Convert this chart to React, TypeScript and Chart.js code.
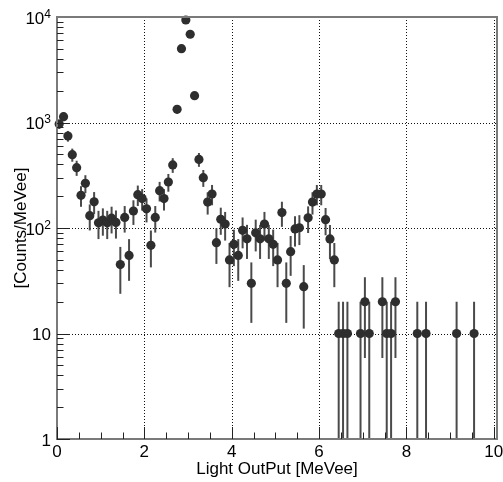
import React, { useEffect, useRef } from "react";
import { Chart, registerables } from "chart.js";

Chart.register(...registerables);

// Histogram bin centres (MeV electron equivalent), bin width 0.1
const BIN_CENTERS = [
  0.05, 0.15, 0.25, 0.35, 0.45, 0.55, 0.65, 0.75, 0.85, 0.95,
  1.05, 1.15, 1.25, 1.35, 1.45, 1.55, 1.65, 1.75, 1.85, 1.95,
  2.05, 2.15, 2.25, 2.35, 2.45, 2.55, 2.65, 2.75, 2.85, 2.95,
  3.05, 3.15, 3.25, 3.35, 3.45, 3.55, 3.65, 3.75, 3.85, 3.95,
  4.05, 4.15, 4.25, 4.35, 4.45, 4.55, 4.65, 4.75, 4.85, 4.95,
  5.05, 5.15, 5.25, 5.35, 5.45, 5.55, 5.65, 5.75, 5.85, 5.95,
  6.05, 6.15, 6.25, 6.35, 6.45, 6.55, 6.65, 6.95, 7.05, 7.15,
  7.45, 7.55, 7.65, 7.75, 8.25, 8.45, 9.15, 9.55,
];

// Counts per MeVee
const COUNTS_PER_MEVEE = [
  968, 1135, 745, 495, 373, 204, 265, 131, 177, 112,
  119, 112, 124, 113, 45, 126, 55, 145, 207, 190,
  152, 68.5, 126, 226, 190, 273, 396, 1334, 5010, 9370,
  6860, 1795, 447, 300, 176, 210, 72.6, 121, 109, 49.8,
  70, 55, 95, 79, 29.9, 90, 79, 109, 79, 70,
  49.8, 140, 29.9, 59.6, 98, 100.6, 27.8, 125, 176, 210,
  210, 120, 78.7, 49.8, 10, 10, 10, 10, 20, 10,
  20, 10, 10, 20, 10, 10, 10, 10,
];

const BIN_WIDTH = 0.1;

const X_MIN = 0;
const X_MAX = 10.075;
const Y_MIN = 1;
const Y_MAX = 10000;

const X_TICKS = [0, 2, 4, 6, 8, 10];
const X_TICK_LABELS = ["0", "2", "4", "6", "8", "10"];
const Y_TICKS = [1, 10, 100, 1000, 10000];
const Y_TICK_BASES = ["1", "10", "10", "10", "10"];
const Y_TICK_EXPONENTS = ["", "", "2", "3", "4"];

const X_TITLE = "Light OutPut [MeVee]";
const Y_TITLE = "[Counts/MeVee]";

const FONT_FAMILY = '"Liberation Sans", Arial, Helvetica, sans-serif';

const rootStylePlugin = {
  id: "rootStyle",
  beforeDatasetsDraw(chart: any) {
    const { ctx, chartArea: a, scales } = chart;
    const x = scales.x;
    const y = scales.y;
    ctx.save();
    // dotted grid
    ctx.strokeStyle = "#111";
    ctx.lineWidth = 1;
    ctx.setLineDash([1, 2]);
    for (const t of X_TICKS) {
      if (t === X_MIN) continue;
      const px = Math.round(x.getPixelForValue(t)) + 0.5;
      ctx.beginPath();
      ctx.moveTo(px, a.top);
      ctx.lineTo(px, a.bottom);
      ctx.stroke();
    }
    for (const t of Y_TICKS) {
      if (t === Y_MIN || t === Y_MAX) continue;
      const py = Math.round(y.getPixelForValue(t)) + 0.5;
      ctx.beginPath();
      ctx.moveTo(a.left, py);
      ctx.lineTo(a.right, py);
      ctx.stroke();
    }
    ctx.setLineDash([]);

    // statistical error bars
    ctx.beginPath();
    ctx.rect(a.left, a.top, a.right - a.left, a.bottom - a.top);
    ctx.clip();
    ctx.strokeStyle = "#4a4a4a";
    ctx.lineWidth = 2;
    for (let i = 0; i < BIN_CENTERS.length; i++) {
      const v = COUNTS_PER_MEVEE[i];
      const err = Math.sqrt(v * BIN_WIDTH) / BIN_WIDTH;
      const lo = v - err;
      const hi = v + err;
      const px = x.getPixelForValue(BIN_CENTERS[i]);
      const pyLo = lo > Y_MIN ? y.getPixelForValue(lo) : a.bottom;
      const pyHi = y.getPixelForValue(hi);
      ctx.beginPath();
      ctx.moveTo(px, Math.min(pyLo, a.bottom));
      ctx.lineTo(px, pyHi);
      ctx.stroke();
    }
    ctx.restore();
  },
  afterDraw(chart: any) {
    const { ctx, chartArea: a, scales } = chart;
    const x = scales.x;
    const y = scales.y;
    ctx.save();

    // frame
    ctx.strokeStyle = "#7a7a7a";
    ctx.lineWidth = 2;
    ctx.strokeRect(a.left, a.top, a.right - a.left, a.bottom - a.top);

    // ticks
    ctx.strokeStyle = "#222";
    ctx.lineWidth = 1;
    // x minor ticks every 0.5
    for (let k = 0; k <= 20; k++) {
      const t = k * 0.5;
      const px = Math.round(x.getPixelForValue(t)) + 0.5;
      const major = k % 4 === 0;
      const len = major ? 12 : 6.5;
      ctx.beginPath();
      ctx.moveTo(px, a.bottom);
      ctx.lineTo(px, a.bottom - len);
      ctx.stroke();
    }
    // y ticks
    for (let d = 0; d < 4; d++) {
      for (let m = 1; m <= 9; m++) {
        const v = m * Math.pow(10, d);
        const py = Math.round(y.getPixelForValue(v)) + 0.5;
        const len = m === 1 ? 13 : 6.5;
        ctx.beginPath();
        ctx.moveTo(a.left, py);
        ctx.lineTo(a.left + len, py);
        ctx.stroke();
      }
    }

    // x tick labels
    ctx.fillStyle = "#000";
    ctx.font = `17px ${FONT_FAMILY}`;
    ctx.textAlign = "center";
    ctx.textBaseline = "alphabetic";
    X_TICKS.forEach((t, i) => {
      ctx.fillText(X_TICK_LABELS[i], x.getPixelForValue(t), a.bottom + 18);
    });

    // y tick labels
    const right = a.left - 6;
    Y_TICKS.forEach((t, i) => {
      const py = y.getPixelForValue(t);
      const exp = Y_TICK_EXPONENTS[i];
      let baseRight = right;
      ctx.textAlign = "right";
      if (exp) {
        ctx.font = `12px ${FONT_FAMILY}`;
        ctx.fillText(exp, right, py + 0.5);
        baseRight = right - ctx.measureText(exp).width;
      }
      ctx.font = `17px ${FONT_FAMILY}`;
      ctx.fillText(Y_TICK_BASES[i], baseRight, py + 6.5);
    });

    // axis titles
    ctx.font = `17px ${FONT_FAMILY}`;
    ctx.textAlign = "center";
    ctx.fillText(X_TITLE, (a.left + a.right) / 2, a.bottom + 35);
    ctx.translate(25.5, (a.top + a.bottom) / 2);
    ctx.rotate(-Math.PI / 2);
    ctx.fillText(Y_TITLE, 0, 0);
    ctx.restore();
  },
};

export default function App() {
  const canvasRef = useRef<HTMLCanvasElement | null>(null);

  useEffect(() => {
    const canvas = canvasRef.current;
    if (!canvas) return;
    const points = BIN_CENTERS.map((c, i) => ({ x: c, y: COUNTS_PER_MEVEE[i] }));
    const chart = new Chart(canvas, {
      type: "scatter",
      data: {
        datasets: [
          {
            data: points,
            pointRadius: 4.6,
            pointBackgroundColor: "#2e2e2e",
            pointBorderColor: "#2e2e2e",
            pointBorderWidth: 0,
            showLine: false,
            clip: false as any,
          },
        ],
      },
      options: {
        responsive: false,
        animation: false,
        events: [],
        layout: { padding: { left: 57, right: 6, top: 17, bottom: 43 } },
        plugins: { legend: { display: false }, tooltip: { enabled: false } },
        scales: {
          x: { type: "linear", display: false, min: X_MIN, max: X_MAX },
          y: { type: "logarithmic", display: false, min: Y_MIN, max: Y_MAX },
        },
      },
      plugins: [rootStylePlugin],
    });
    return () => chart.destroy();
  }, []);

  return (
    <div
      style={{
        position: "fixed",
        left: 0,
        top: 0,
        width: 503,
        height: 482,
        background: "#fff",
      }}
    >
      <canvas ref={canvasRef} width={503} height={482} style={{ display: "block" }} />
    </div>
  );
}
